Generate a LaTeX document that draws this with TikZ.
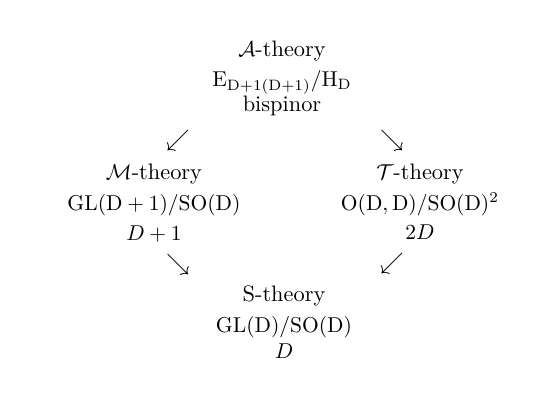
\documentclass[tikz,border=0pt]{standalone}
\usepackage{amsmath}
\begin{document}
\begin{tikzpicture}[x=0.4651pt,y=-0.4651pt,
  lbl/.style={anchor=base,inner sep=0pt,font=\fontsize{10.4}{12}\selectfont},
  arr/.style={inner sep=0pt,font=\fontsize{11}{12}\selectfont}]
\useasboundingbox (0,0) rectangle (556,406);
% top
\node[lbl] (a1) at (282,56.5) {$\mathcal{A}$-theory};
\node[lbl] (a2) at (282,86.5) {$\mathrm{E}_{\mathrm{D}+1(\mathrm{D}+1)}/\mathrm{H}_{\mathrm{D}}$};
\node[lbl] (a3) at (282,111.5) {bispinor};
% arrows
\node[arr] (ar1) at (178,141) {$\swarrow$};
\node[arr] (ar2) at (392,141) {$\searrow$};
% M
\node[lbl] (m1) at (154,179) {$\mathcal{M}$-theory};
\node[lbl] (m2) at (154,210) {$\mathrm{GL}(\mathrm{D}+1)/\mathrm{SO}(\mathrm{D})$};
\node[lbl] (m3) at (154,240) {$D+1$};
% T
\node[lbl] (t1) at (420,179) {$\mathcal{T}$-theory};
\node[lbl] (t2) at (420,210) {$\mathrm{O}(\mathrm{D},\mathrm{D})/\mathrm{SO}(\mathrm{D})^2$};
\node[lbl] (t3) at (420,239) {$2D$};
% arrows
\node[arr] (ar3) at (178,265) {$\searrow$};
\node[arr] (ar4) at (392,264) {$\swarrow$};
% S
\node[lbl] (s1) at (284,301) {S-theory};
\node[lbl] (s2) at (284,332) {$\mathrm{GL}(\mathrm{D})/\mathrm{SO}(\mathrm{D})$};
\node[lbl] (s3) at (284,358) {$D$};
\end{tikzpicture}
\end{document}
